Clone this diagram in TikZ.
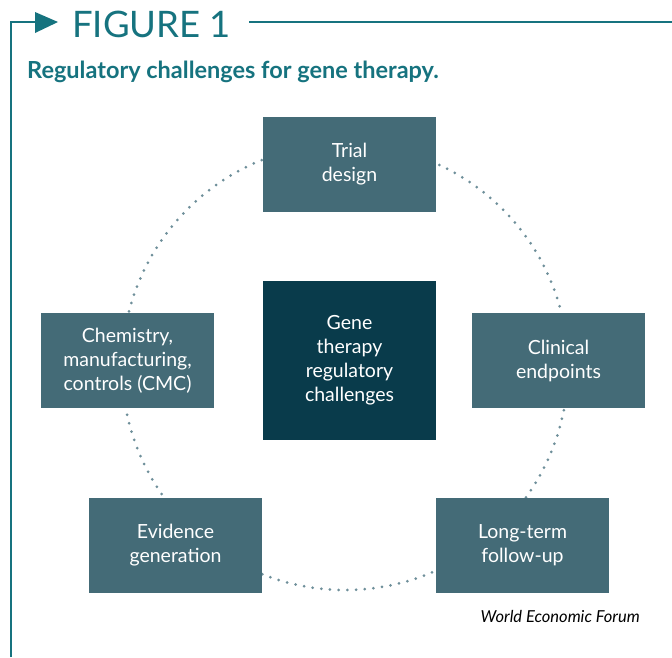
\documentclass[tikz,border=0pt]{standalone}
\usepackage{fontspec}
\setmainfont{Lato}
\definecolor{frameteal}{HTML}{16737F}
\definecolor{boxteal}{HTML}{446B77}
\definecolor{coreteal}{HTML}{093B4B}
\definecolor{dotteal}{HTML}{6E8F9A}
\begin{document}
\begin{tikzpicture}[x=1pt,y=-1pt,
  stage/.style={rectangle, fill=boxteal, draw=none, minimum width=173pt, minimum height=95pt,
    text=white, align=center, font=\fontsize{19.5}{24}\selectfont, inner sep=0pt},
  core/.style={stage, fill=coreteal, minimum height=159pt},
  ring/.style={draw=dotteal, line width=3pt, line cap=round, dash pattern=on 0pt off 8.7pt}]
\useasboundingbox (0,0) rectangle (672,657);
\fill[white] (0,0) rectangle (672,657);

% frame with arrowhead and title rule
\coordinate (fTop) at (11,22);
\coordinate (fBot) at (11,657);
\coordinate (fArr) at (36,22);
\coordinate (rStart) at (249,22);
\coordinate (rEnd) at (672,22);
\draw[frameteal, line width=2pt] (fBot) -- (fTop) -- (fArr);
\fill[frameteal] (35,12) -- (58,22) -- (35,33) -- cycle;
\draw[frameteal, line width=2pt] (rStart) -- (rEnd);
\node[anchor=base west, inner sep=0pt, text=frameteal, font=\fontsize{36.5}{40}\selectfont] (title) at (72,37) {FIGURE 1};
\node[anchor=base west, inner sep=0pt, text=frameteal, font=\bfseries\fontsize{23.5}{26}\selectfont] (subtitle) at (27,78) {Regulatory challenges for gene therapy.};

% dotted ring behind the stages
\coordinate (hub) at (345,367);
\draw[ring] (hub) circle[radius=223];

% stages
\node[core] (gene) at (349.5,360.5) {Gene\\therapy\\regulatory\\challenges};
\node[stage] (trial) at (349.5,164.5) {Trial\\design};
\node[stage] (clin) at (558.5,360.5) {Clinical\\endpoints};
\node[stage] (follow) at (522.5,545.5) {Long-term\\follow-up};
\node[stage] (evid) at (175.5,545.5) {Evidence\\generation};
\node[stage] (cmc) at (127.5,360.5) {Chemistry,\\manufacturing,\\controls (CMC)};

\node[anchor=base east, inner sep=0pt, font=\itshape\fontsize{16.5}{18}\selectfont] (source) at (640,622) {World Economic Forum};
\end{tikzpicture}
\end{document}
